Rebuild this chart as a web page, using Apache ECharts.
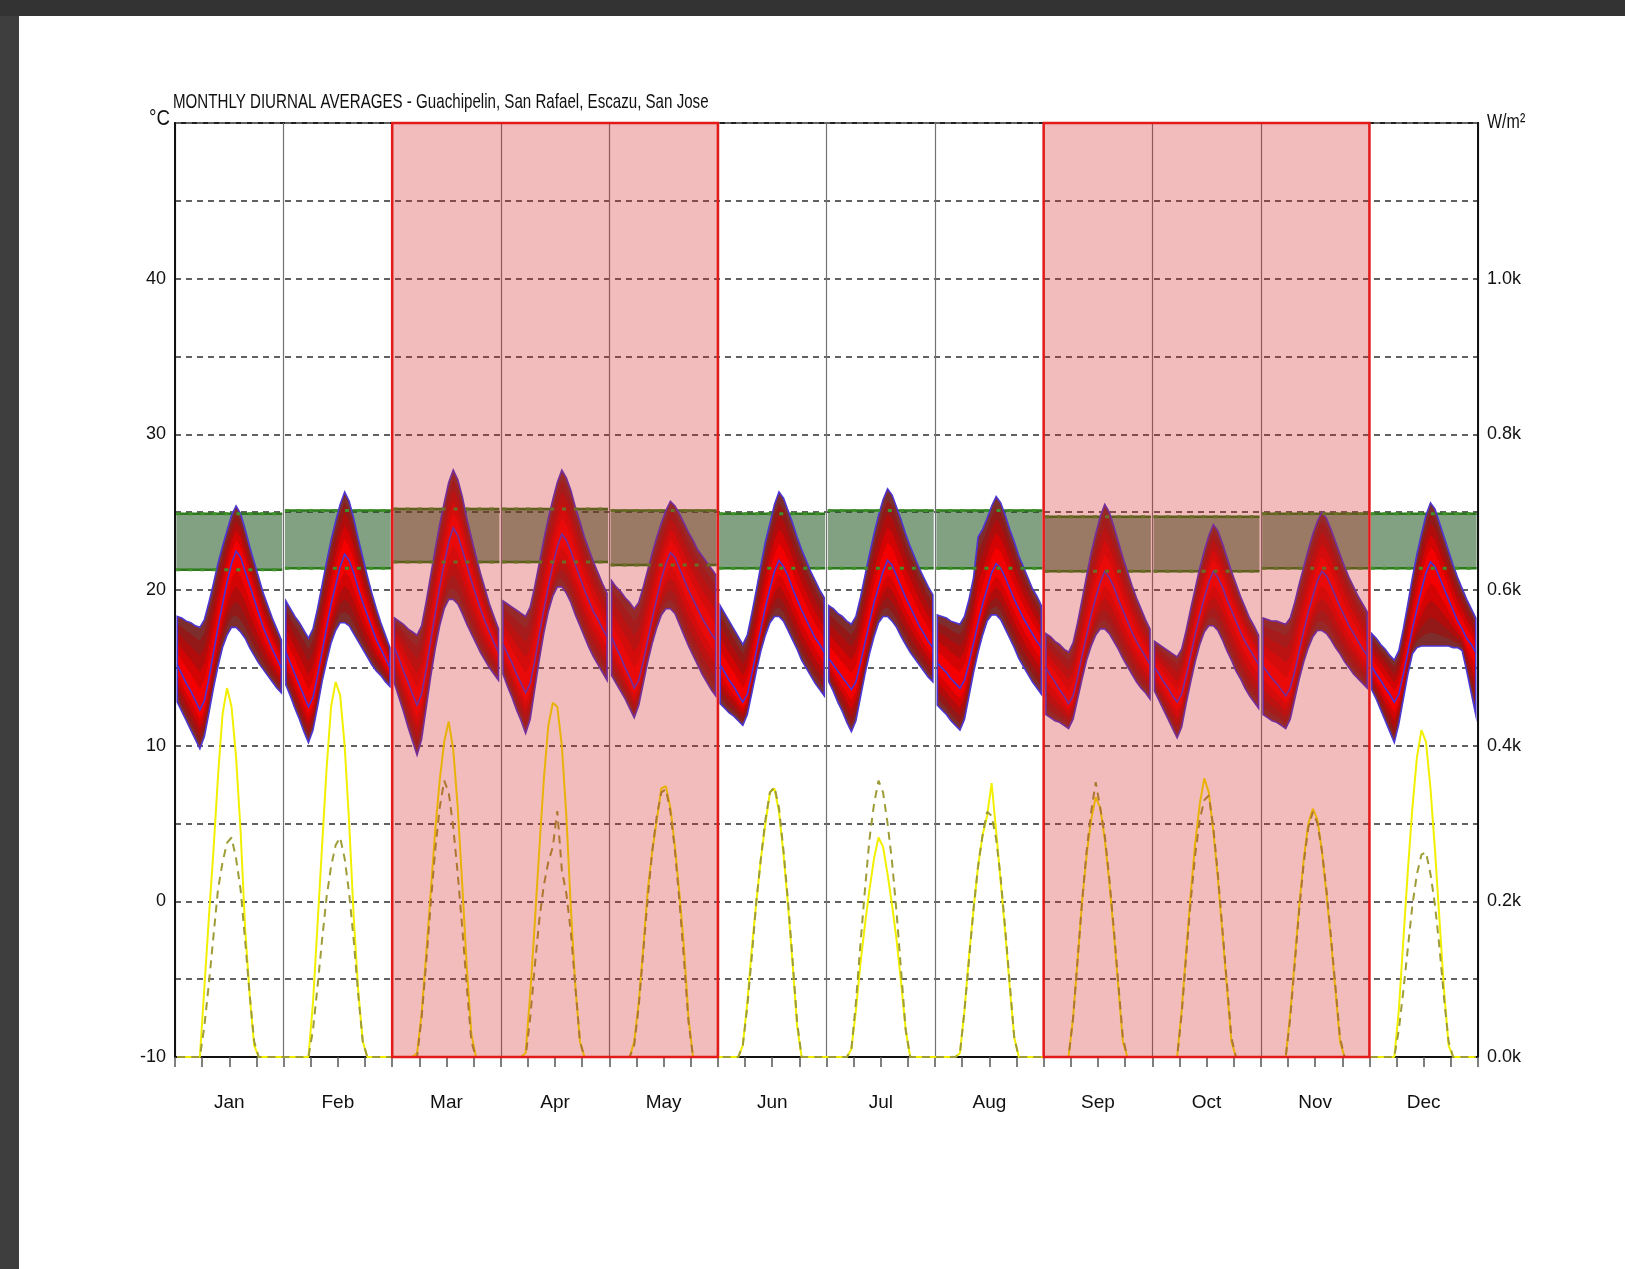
<!DOCTYPE html>
<html>
<head>
<meta charset="utf-8">
<title>Monthly diurnal averages</title>
<script src="https://cdn.jsdelivr.net/npm/echarts@6/dist/echarts.min.js"></script>
<style>
  html, body { margin: 0; padding: 0; background: #fff; }
  #chart { width: 1625px; height: 1269px; }
</style>
</head>
<body>
<div id="chart"></div>
<script>
// months and the two shaded seasons
const months = ['Jan', 'Feb', 'Mar', 'Apr', 'May', 'Jun', 'Jul', 'Aug', 'Sep', 'Oct', 'Nov', 'Dec']
const highlightRanges = [['Mar', 'May'], ['Sep', 'Nov']]

// tick labels
const tempTicks = [-10, 0, 10, 20, 30, 40]
const radTicks = [0, 200, 400, 600, 800, 1000]
const radTickLabels = ['0.0k', '0.2k', '0.4k', '0.6k', '0.8k', '1.0k']

// hourly temperature (°C), one row of 24 hours per month
const tempMax = [
  [18.3, 18.2, 18.0, 17.9, 17.7, 17.6, 18.1, 19.2, 20.4, 21.7, 22.8, 23.8, 24.8, 25.4, 24.9, 23.9, 22.8, 21.8, 20.8, 19.8, 19.0, 18.2, 17.5, 16.8],
  [19.3, 18.8, 18.3, 17.9, 17.4, 16.9, 17.5, 18.8, 20.3, 21.8, 23.2, 24.4, 25.5, 26.3, 25.7, 24.6, 23.3, 22.1, 20.9, 19.8, 18.8, 17.9, 17.1, 16.3],
  [18.2, 18.0, 17.8, 17.5, 17.3, 17.1, 17.7, 19.2, 20.9, 22.6, 24.2, 25.6, 26.9, 27.7, 27.1, 26.0, 24.6, 23.4, 22.2, 21.1, 20.1, 19.1, 18.3, 17.5],
  [19.3, 19.1, 18.9, 18.7, 18.5, 18.3, 18.9, 20.2, 21.7, 23.2, 24.6, 25.8, 26.9, 27.7, 27.2, 26.4, 25.3, 24.4, 23.4, 22.6, 21.8, 21.1, 20.4, 19.8],
  [20.6, 20.2, 19.9, 19.5, 19.2, 18.8, 19.2, 20.2, 21.3, 22.4, 23.4, 24.3, 25.1, 25.7, 25.4, 24.9, 24.3, 23.7, 23.2, 22.6, 22.2, 21.8, 21.4, 21.0],
  [19.0, 18.5, 18.0, 17.5, 17.0, 16.5, 17.1, 18.5, 20.0, 21.6, 23.1, 24.3, 25.5, 26.3, 25.9, 25.1, 24.3, 23.4, 22.6, 21.9, 21.2, 20.6, 20.0, 19.5],
  [19.0, 18.8, 18.5, 18.3, 18.0, 17.8, 18.3, 19.5, 20.9, 22.3, 23.6, 24.8, 25.8, 26.5, 26.1, 25.3, 24.5, 23.6, 22.8, 22.1, 21.4, 20.8, 20.2, 19.7],
  [18.4, 18.3, 18.2, 18.0, 17.9, 17.8, 18.3, 19.4, 20.8, 23.4, 23.9, 24.6, 25.4, 26.0, 25.6, 24.8, 23.9, 23.1, 22.2, 21.5, 20.8, 20.1, 19.6, 19.0],
  [17.2, 17.0, 16.7, 16.5, 16.2, 16.0, 16.6, 17.9, 19.4, 20.9, 22.4, 23.6, 24.7, 25.5, 25.0, 24.1, 23.1, 22.1, 21.2, 20.3, 19.5, 18.8, 18.1, 17.5],
  [16.7, 16.5, 16.3, 16.1, 15.9, 15.7, 16.2, 17.4, 18.8, 20.1, 21.4, 22.5, 23.5, 24.2, 23.8, 23.0, 22.1, 21.2, 20.4, 19.6, 18.9, 18.2, 17.7, 17.1],
  [18.2, 18.1, 18.0, 18.0, 17.9, 17.8, 18.2, 19.2, 20.4, 21.5, 22.6, 23.6, 24.4, 25.0, 24.6, 23.9, 23.1, 22.3, 21.5, 20.8, 20.2, 19.6, 19.1, 18.6],
  [17.2, 16.9, 16.5, 16.2, 15.8, 15.5, 16.1, 17.5, 19.1, 20.8, 22.3, 23.6, 24.8, 25.6, 25.2, 24.3, 23.4, 22.5, 21.6, 20.8, 20.1, 19.4, 18.8, 18.2]
]
const tempMean = [
  [15.2, 14.6, 14.0, 13.5, 12.9, 12.3, 12.9, 14.3, 16.0, 17.6, 19.1, 20.5, 21.7, 22.5, 22.1, 21.2, 20.3, 19.4, 18.5, 17.6, 16.9, 16.2, 15.6, 15.0],
  [16.0, 15.3, 14.6, 13.9, 13.2, 12.5, 13.1, 14.5, 16.0, 17.6, 19.1, 20.3, 21.5, 22.3, 21.9, 21.1, 20.1, 19.2, 18.4, 17.6, 16.8, 16.2, 15.6, 15.0],
  [16.3, 15.6, 14.8, 14.1, 13.3, 12.6, 13.3, 14.9, 16.7, 18.5, 20.2, 21.7, 23.1, 24.0, 23.5, 22.6, 21.6, 20.6, 19.7, 18.8, 18.0, 17.3, 16.6, 16.0],
  [16.5, 15.9, 15.3, 14.6, 14.0, 13.4, 14.0, 15.4, 17.1, 18.7, 20.2, 21.6, 22.8, 23.6, 23.2, 22.5, 21.6, 20.8, 20.0, 19.3, 18.6, 18.1, 17.5, 17.0],
  [17.0, 16.3, 15.7, 15.0, 14.4, 13.7, 14.2, 15.4, 16.8, 18.2, 19.5, 20.7, 21.7, 22.4, 22.1, 21.4, 20.7, 20.0, 19.4, 18.8, 18.2, 17.7, 17.2, 16.8],
  [15.2, 14.7, 14.2, 13.8, 13.3, 12.8, 13.3, 14.6, 16.1, 17.5, 18.9, 20.1, 21.2, 21.9, 21.5, 20.9, 20.1, 19.4, 18.7, 18.1, 17.5, 16.9, 16.5, 16.0],
  [15.6, 15.2, 14.8, 14.4, 14.0, 13.6, 14.1, 15.3, 16.6, 17.9, 19.2, 20.2, 21.2, 21.9, 21.6, 20.9, 20.2, 19.5, 18.9, 18.3, 17.7, 17.2, 16.7, 16.3],
  [15.3, 15.0, 14.7, 14.3, 14.0, 13.7, 14.2, 15.3, 16.6, 17.9, 19.1, 20.1, 21.1, 21.7, 21.4, 20.8, 20.1, 19.4, 18.8, 18.2, 17.7, 17.2, 16.7, 16.3],
  [15.0, 14.5, 14.1, 13.6, 13.2, 12.7, 13.2, 14.4, 15.8, 17.1, 18.4, 19.5, 20.5, 21.2, 20.8, 20.2, 19.4, 18.7, 18.0, 17.3, 16.7, 16.2, 15.7, 15.2],
  [15.0, 14.6, 14.1, 13.7, 13.2, 12.8, 13.3, 14.5, 15.8, 17.2, 18.4, 19.5, 20.5, 21.2, 20.8, 20.2, 19.4, 18.7, 18.0, 17.3, 16.7, 16.2, 15.7, 15.2],
  [15.1, 14.7, 14.3, 14.0, 13.6, 13.2, 13.7, 14.8, 16.1, 17.4, 18.6, 19.6, 20.6, 21.2, 20.9, 20.3, 19.6, 18.9, 18.3, 17.7, 17.2, 16.7, 16.2, 15.8],
  [15.1, 14.6, 14.2, 13.7, 13.3, 12.8, 13.3, 14.6, 16.0, 17.5, 18.8, 20.0, 21.1, 21.8, 21.5, 20.8, 20.1, 19.4, 18.7, 18.0, 17.5, 16.9, 16.5, 16.0]
]
const tempMin = [
  [12.8, 12.2, 11.6, 11.0, 10.4, 9.8, 10.6, 12.1, 13.7, 15.1, 16.3, 17.1, 17.6, 17.6, 17.3, 16.9, 16.3, 15.8, 15.3, 14.9, 14.5, 14.1, 13.7, 13.4],
  [13.9, 13.2, 12.4, 11.7, 10.9, 10.2, 11.0, 12.5, 14.1, 15.4, 16.6, 17.4, 17.9, 17.9, 17.7, 17.2, 16.7, 16.2, 15.7, 15.2, 14.8, 14.5, 14.1, 13.8],
  [14.0, 13.1, 12.2, 11.2, 10.3, 9.4, 10.4, 12.4, 14.4, 16.2, 17.7, 18.8, 19.4, 19.4, 19.1, 18.5, 17.8, 17.2, 16.6, 16.0, 15.5, 15.0, 14.6, 14.2],
  [14.6, 13.8, 13.1, 12.3, 11.6, 10.8, 11.7, 13.6, 15.5, 17.2, 18.6, 19.6, 20.2, 20.2, 19.8, 19.2, 18.4, 17.7, 17.0, 16.3, 15.7, 15.2, 14.7, 14.2],
  [14.5, 14.0, 13.5, 13.0, 12.4, 11.8, 12.6, 14.0, 15.4, 16.6, 17.6, 18.4, 18.8, 18.8, 18.5, 17.8, 17.1, 16.4, 15.8, 15.2, 14.6, 14.1, 13.6, 13.2],
  [12.7, 12.4, 12.1, 11.9, 11.6, 11.3, 12.0, 13.4, 14.8, 16.1, 17.1, 17.9, 18.3, 18.3, 18.0, 17.4, 16.8, 16.2, 15.5, 15.0, 14.5, 14.0, 13.6, 13.2],
  [14.1, 13.5, 12.8, 12.2, 11.5, 10.9, 11.6, 13.1, 14.6, 15.9, 17.0, 17.9, 18.3, 18.3, 18.0, 17.6, 17.0, 16.5, 16.0, 15.6, 15.2, 14.8, 14.4, 14.1],
  [12.6, 12.3, 12.0, 11.6, 11.3, 11.0, 11.7, 13.2, 14.7, 16.0, 17.1, 18.0, 18.4, 18.4, 18.1, 17.5, 16.9, 16.3, 15.6, 15.1, 14.6, 14.1, 13.7, 13.3],
  [12.0, 11.8, 11.6, 11.5, 11.3, 11.1, 11.7, 13.0, 14.3, 15.5, 16.4, 17.1, 17.5, 17.5, 17.2, 16.7, 16.2, 15.6, 15.1, 14.6, 14.1, 13.7, 13.4, 13.0],
  [13.5, 12.9, 12.3, 11.7, 11.1, 10.5, 11.2, 12.7, 14.1, 15.4, 16.5, 17.3, 17.7, 17.7, 17.4, 16.8, 16.1, 15.5, 14.8, 14.3, 13.7, 13.2, 12.8, 12.4],
  [12.0, 11.8, 11.6, 11.5, 11.3, 11.1, 11.7, 13.0, 14.3, 15.4, 16.3, 17.0, 17.4, 17.4, 17.2, 16.8, 16.3, 15.9, 15.4, 15.0, 14.6, 14.3, 14.0, 13.7],
  [13.6, 13.0, 12.3, 11.6, 10.9, 10.2, 11.4, 13.0, 14.6, 15.9, 16.3, 16.4, 16.4, 16.4, 16.4, 16.4, 16.4, 16.4, 16.3, 16.3, 16.1, 14.8, 13.4, 12.0]
]

// comfort band per month (°C)
const comfortLow = [21.3, 21.4, 21.8, 21.8, 21.6, 21.4, 21.4, 21.4, 21.2, 21.2, 21.4, 21.4]
const comfortHigh = [24.9, 25.1, 25.2, 25.2, 25.1, 24.9, 25.1, 25.1, 24.7, 24.7, 24.9, 24.9]

// hourly solar radiation (W/m²), solid and dashed curves
const solarSolid = [
  [0, 0, 0, 0, 0, 0, 90, 180, 265, 360, 440, 474, 450, 385, 290, 165, 80, 15, 0, 0, 0, 0, 0, 0],
  [0, 0, 0, 0, 0, 0, 70, 170, 270, 370, 450, 482, 465, 400, 300, 180, 85, 20, 0, 0, 0, 0, 0, 0],
  [0, 0, 0, 0, 0, 5, 55, 130, 210, 290, 355, 405, 431, 395, 320, 220, 115, 30, 0, 0, 0, 0, 0, 0],
  [0, 0, 0, 0, 0, 5, 80, 170, 265, 355, 425, 455, 450, 400, 310, 190, 90, 20, 0, 0, 0, 0, 0, 0],
  [0, 0, 0, 0, 0, 20, 70, 140, 215, 265, 305, 345, 348, 320, 270, 210, 140, 50, 0, 0, 0, 0, 0, 0],
  [0, 0, 0, 0, 0, 15, 70, 140, 200, 255, 300, 340, 345, 315, 260, 195, 120, 40, 0, 0, 0, 0, 0, 0],
  [0, 0, 0, 0, 0, 10, 60, 120, 170, 215, 255, 282, 270, 235, 195, 150, 95, 35, 0, 0, 0, 0, 0, 0],
  [0, 0, 0, 0, 0, 5, 60, 130, 190, 245, 285, 310, 352, 290, 225, 160, 90, 25, 0, 0, 0, 0, 0, 0],
  [0, 0, 0, 0, 0, 0, 50, 125, 200, 260, 305, 334, 320, 280, 225, 160, 90, 20, 0, 0, 0, 0, 0, 0],
  [0, 0, 0, 0, 0, 0, 60, 135, 210, 275, 325, 358, 340, 290, 230, 160, 90, 20, 0, 0, 0, 0, 0, 0],
  [0, 0, 0, 0, 0, 0, 55, 125, 195, 255, 300, 319, 305, 265, 210, 150, 85, 20, 0, 0, 0, 0, 0, 0],
  [0, 0, 0, 0, 0, 0, 60, 150, 240, 320, 385, 420, 405, 345, 265, 175, 85, 15, 0, 0, 0, 0, 0, 0]
]
const solarDashed = [
  [0, 0, 0, 0, 0, 0, 40, 95, 155, 215, 250, 275, 282, 255, 215, 150, 80, 20, 0, 0, 0, 0, 0, 0],
  [0, 0, 0, 0, 0, 0, 35, 90, 150, 205, 245, 272, 282, 255, 210, 150, 80, 20, 0, 0, 0, 0, 0, 0],
  [0, 0, 0, 0, 0, 0, 50, 120, 195, 265, 320, 355, 340, 295, 235, 165, 90, 20, 0, 0, 0, 0, 0, 0],
  [0, 0, 0, 0, 0, 0, 50, 115, 175, 220, 250, 270, 316, 240, 210, 160, 90, 20, 0, 0, 0, 0, 0, 0],
  [0, 0, 0, 0, 0, 15, 65, 135, 205, 265, 310, 340, 344, 315, 265, 200, 125, 45, 0, 0, 0, 0, 0, 0],
  [0, 0, 0, 0, 0, 15, 65, 130, 200, 255, 305, 340, 347, 320, 265, 200, 125, 45, 0, 0, 0, 0, 0, 0],
  [0, 0, 0, 0, 0, 10, 70, 145, 215, 280, 325, 355, 340, 300, 250, 185, 110, 35, 0, 0, 0, 0, 0, 0],
  [0, 0, 0, 0, 0, 5, 60, 125, 190, 245, 285, 315, 310, 280, 230, 165, 95, 25, 0, 0, 0, 0, 0, 0],
  [0, 0, 0, 0, 0, 0, 50, 125, 200, 265, 315, 353, 320, 285, 230, 165, 95, 25, 0, 0, 0, 0, 0, 0],
  [0, 0, 0, 0, 0, 0, 55, 130, 200, 260, 305, 330, 336, 295, 235, 165, 95, 25, 0, 0, 0, 0, 0, 0],
  [0, 0, 0, 0, 0, 0, 50, 120, 190, 250, 295, 315, 300, 265, 215, 155, 90, 25, 0, 0, 0, 0, 0, 0],
  [0, 0, 0, 0, 0, 0, 35, 85, 140, 195, 235, 260, 263, 235, 195, 140, 75, 20, 0, 0, 0, 0, 0, 0]
]

const FONT = "'Liberation Sans', Arial, sans-serif"
const HOURS = 24

// position of an hour on the x axis (each month is 24 units wide)
const hourX = (m, h) => m * HOURS + h + 0.5

// shading layers of the temperature envelope, from outer edge towards the mean
const bandLayers = [
  { t: 0, color: '#7e2d2d' },
  { t: 0.16, color: '#931919' },
  { t: 0.34, color: '#b00c0c' },
  { t: 0.54, color: '#d40404' },
  { t: 0.75, color: '#f40000' }
]

const solarSeries = (rows) => {
  const out = []
  rows.forEach((row, m) => row.forEach((v, h) => out.push([hourX(m, h), v])))
  return out
}

const renderBand = (params, api) => {
  const m = api.value(0)
  const hi = tempMax[m]
  const mid = tempMean[m]
  const lo = tempMin[m]
  const children = []
  bandLayers.forEach((layer) => {
    const top = hi.map((v, h) => api.coord([hourX(m, h), v + layer.t * (mid[h] - v)]))
    const bot = lo.map((v, h) => api.coord([hourX(m, h), v + layer.t * (mid[h] - v)])).reverse()
    children.push({
      type: 'polygon',
      shape: { points: top.concat(bot) },
      style: { fill: layer.color }
    })
  })
  // outline of the envelope
  const outline = hi.map((v, h) => api.coord([hourX(m, h), v]))
    .concat(lo.map((v, h) => api.coord([hourX(m, h), v])).reverse())
  children.push({
    type: 'polygon',
    shape: { points: outline },
    style: { fill: null, stroke: '#4d36d2', lineWidth: 1.6 }
  })
  // mean line
  children.push({
    type: 'polyline',
    shape: { points: mid.map((v, h) => api.coord([hourX(m, h), v])) },
    style: { fill: null, stroke: '#4a34d6', lineWidth: 1.6 }
  })
  return { type: 'group', children }
}

const comfortEdges = (m, api) => {
  const x0 = m * HOURS + 0.3
  const x1 = m * HOURS + 23.7
  return {
    tl: api.coord([x0, comfortHigh[m]]),
    br: api.coord([x1, comfortLow[m]])
  }
}

const renderComfort = (params, api) => {
  const m = api.value(0)
  const { tl, br } = comfortEdges(m, api)
  return {
    type: 'group',
    children: [
      {
        type: 'rect',
        shape: { x: tl[0], y: tl[1], width: br[0] - tl[0], height: br[1] - tl[1] },
        style: { fill: 'rgba(22, 82, 24, 0.54)' }
      },
      { type: 'line', shape: { x1: tl[0], y1: tl[1], x2: br[0], y2: tl[1] }, style: { stroke: '#2d7a1c', lineWidth: 2.5 } },
      { type: 'line', shape: { x1: tl[0], y1: br[1], x2: br[0], y2: br[1] }, style: { stroke: '#2d7a1c', lineWidth: 2.5 } }
    ]
  }
}

const renderComfortDots = (params, api) => {
  const m = api.value(0)
  const { tl, br } = comfortEdges(m, api)
  const style = { stroke: '#3f8f2a', lineWidth: 3, lineDash: [4, 8] }
  return {
    type: 'group',
    children: [
      { type: 'line', shape: { x1: tl[0], y1: tl[1], x2: br[0], y2: tl[1] }, style },
      { type: 'line', shape: { x1: tl[0], y1: br[1], x2: br[0], y2: br[1] }, style }
    ]
  }
}

const renderHighlight = (params, api) => {
  const a = api.coord([api.value(0) * HOURS, 50])
  const b = api.coord([(api.value(1) + 1) * HOURS, -10])
  return {
    type: 'rect',
    shape: { x: a[0], y: a[1], width: b[0] - a[0], height: b[1] - a[1] },
    style: { fill: 'rgba(212, 32, 32, 0.3)', stroke: '#e41a1a', lineWidth: 2.5 }
  }
}

const chart = echarts.init(document.getElementById('chart'))

chart.setOption({
  animation: false,
  backgroundColor: '#ffffff',
  textStyle: { fontFamily: FONT },
  graphic: [
    { type: 'rect', left: 0, top: 0, shape: { width: 1625, height: 16 }, style: { fill: '#333333' } },
    { type: 'rect', left: 0, top: 16, shape: { width: 19, height: 1253 }, style: { fill: '#3e3e3e' } },
    {
      type: 'text', x: 173, y: 92, scaleX: 0.72,
      style: { text: 'MONTHLY DIURNAL AVERAGES - Guachipelin, San Rafael, Escazu, San Jose', font: '21px ' + FONT, fill: '#111' }
    },
    { type: 'text', x: 149, y: 108, scaleX: 0.85, style: { text: '°C', font: '22px ' + FONT, fill: '#111' } },
    { type: 'text', x: 1487, y: 112, scaleX: 0.8, style: { text: 'W/m²', font: '20px ' + FONT, fill: '#111' } }
  ],
  grid: {
    left: 175, right: 147, top: 123, bottom: 212,
    show: true, borderColor: '#222', borderWidth: 2, backgroundColor: 'transparent'
  },
  xAxis: [
    {
      type: 'value', min: 0, max: months.length * HOURS, interval: 6,
      axisLine: { show: true, onZero: false, lineStyle: { color: '#111', width: 2 } },
      axisTick: { show: true, length: 10, lineStyle: { color: '#555', width: 1.5 } },
      splitLine: { show: false },
      axisLabel: {
        margin: 36, fontSize: 19, color: '#111', fontFamily: FONT,
        formatter: (v) => (v % HOURS === 12 ? months[(v - 12) / HOURS] : '')
      }
    },
    {
      type: 'value', min: 0, max: months.length * HOURS, interval: HOURS, position: 'bottom',
      axisLine: { show: false, onZero: false }, axisTick: { show: false }, axisLabel: { show: false },
      splitLine: { show: true, lineStyle: { color: '#727272', width: 1.2 } }
    }
  ],
  yAxis: [
    {
      type: 'value', min: -10, max: 50, interval: 5,
      axisLine: { show: true, onZero: false, lineStyle: { color: '#111', width: 2 } },
      axisTick: { show: false },
      splitLine: { show: true, lineStyle: { color: '#616161', width: 2, type: [6, 5] } },
      axisLabel: {
        margin: 9, fontSize: 18, color: '#111', fontFamily: FONT,
        formatter: (v) => (tempTicks.includes(v) ? String(v) : '')
      }
    },
    {
      type: 'value', min: 0, max: 1200, interval: 100, position: 'right',
      axisLine: { show: true, onZero: false, lineStyle: { color: '#111', width: 2 } },
      axisTick: { show: false },
      splitLine: { show: false },
      axisLabel: {
        margin: 9, fontSize: 18, color: '#111', fontFamily: FONT,
        formatter: (v) => {
          const i = radTicks.indexOf(v)
          return i >= 0 ? radTickLabels[i] : ''
        }
      }
    }
  ],
  series: [
    {
      name: 'Solar (solid)', type: 'line', xAxisIndex: 0, yAxisIndex: 1, z: 3,
      data: solarSeries(solarSolid), symbol: 'none', clip: false,
      lineStyle: { color: '#f2f000', width: 2 }
    },
    {
      name: 'Solar (dashed)', type: 'line', xAxisIndex: 0, yAxisIndex: 1, z: 3,
      data: solarSeries(solarDashed), symbol: 'none', clip: false,
      lineStyle: { color: '#9e9c36', width: 2, type: [8, 6] }
    },
    {
      name: 'Comfort', type: 'custom', xAxisIndex: 0, yAxisIndex: 0, z: 4,
      data: months.map((_, i) => [i, 0]), renderItem: renderComfort
    },
    {
      name: 'Temperature', type: 'custom', xAxisIndex: 0, yAxisIndex: 0, z: 5,
      data: months.map((_, i) => [i, 0]), renderItem: renderBand
    },
    {
      name: 'Comfort edge', type: 'custom', xAxisIndex: 0, yAxisIndex: 0, z: 6,
      data: months.map((_, i) => [i, 0]), renderItem: renderComfortDots
    },
    {
      name: 'Seasons', type: 'custom', xAxisIndex: 0, yAxisIndex: 0, z: 10,
      data: highlightRanges.map(([a, b]) => [months.indexOf(a), months.indexOf(b)]),
      renderItem: renderHighlight
    }
  ]
})
</script>
</body>
</html>
